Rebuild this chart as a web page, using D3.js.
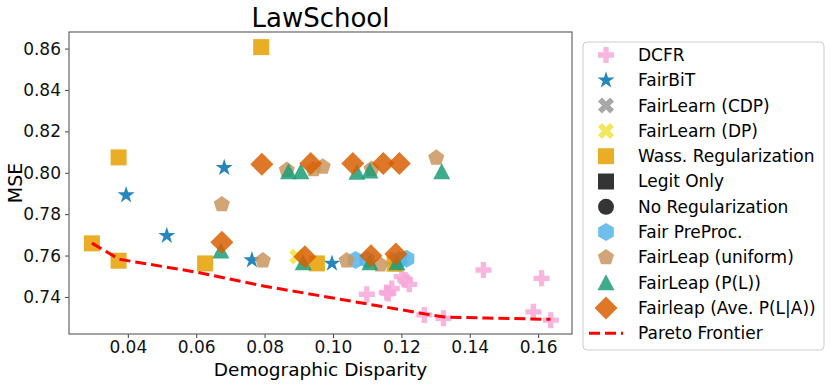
<!DOCTYPE html>
<html>
<head>
<meta charset="utf-8">
<script src="https://cdn.jsdelivr.net/npm/d3@7"></script>
<style>
  body { margin: 0; background: #fff; }
  svg { font-family: "DejaVu Sans", sans-serif; }
</style>
</head>
<body>
<div id="chart"></div>
<script>
// data: [demographic disparity, MSE]
var dcfr = [[0.1099, 0.7413], [0.1157, 0.7422], [0.1172, 0.7441], [0.1162, 0.7417],
  [0.1201, 0.7498], [0.1211, 0.7482], [0.1223, 0.7461], [0.1440, 0.7530],
  [0.1610, 0.7490], [0.1267, 0.7313], [0.1323, 0.7297], [0.1586, 0.7328], [0.1637, 0.7288]];
var fairBiT = [[0.0682, 0.8024], [0.0395, 0.7892], [0.0514, 0.7696], [0.0763, 0.7578], [0.0997, 0.7562]];
var fairLearnCDP = [[0.1184, 0.7580]];
var fairLearnDP = [[0.0895, 0.7595]];
var wass = [[0.0790, 0.8607], [0.0373, 0.8074], [0.0295, 0.7659], [0.0373, 0.7575],
  [0.0626, 0.7562], [0.0953, 0.7562], [0.1180, 0.7560]];
var legitOnly = [];
var noReg = [];
var fairPreProc = [[0.1066, 0.7578], [0.1100, 0.7580], [0.1195, 0.7580], [0.1215, 0.7585]];
var leapUniform = [[0.1302, 0.8072], [0.0675, 0.7847], [0.0865, 0.8013], [0.0943, 0.8016],
  [0.0970, 0.8029], [0.1113, 0.8018], [0.0795, 0.7576], [0.1040, 0.7576], [0.1138, 0.7556]];
var leapPL = [[0.0870, 0.8005], [0.0906, 0.8005], [0.1070, 0.8003], [0.1108, 0.8008],
  [0.1318, 0.8005], [0.0672, 0.7622], [0.0913, 0.7565], [0.1108, 0.7565], [0.1187, 0.7565]];
var leapAvePLA = [[0.0792, 0.8041], [0.0935, 0.8045], [0.1058, 0.8045], [0.1147, 0.8045],
  [0.1194, 0.8045], [0.0675, 0.7664], [0.0918, 0.7594], [0.1111, 0.7599], [0.1184, 0.7607]];
var pareto = [[0.0295, 0.7660], [0.0375, 0.7582], [0.0600, 0.7520], [0.0800, 0.7452],
  [0.1000, 0.7395], [0.1150, 0.7352], [0.1270, 0.7318], [0.1325, 0.7303],
  [0.1450, 0.7298], [0.1636, 0.7292]];

var xTicks = [0.04, 0.06, 0.08, 0.10, 0.12, 0.14, 0.16];
var yTicks = [0.74, 0.76, 0.78, 0.80, 0.82, 0.84, 0.86];

// marker shapes (path strings centred on 0,0)
function poly(n, r, rot) {
  var pts = [];
  for (var i = 0; i < n; i++) {
    var a = rot + i * 2 * Math.PI / n;
    pts.push([r * Math.sin(a), -r * Math.cos(a)]);
  }
  return "M" + pts.map(p => p.join(",")).join("L") + "Z";
}
function star(r) {
  var pts = [];
  for (var i = 0; i < 10; i++) {
    var rr = i % 2 ? r * 0.382 : r;
    var a = i * Math.PI / 5;
    pts.push([rr * Math.sin(a), -rr * Math.cos(a)]);
  }
  return "M" + pts.map(p => p.join(",")).join("L") + "Z";
}
function plus(w) {
  var a = w / 2, b = w / 6;
  return `M${-b},${-a}H${b}V${-b}H${a}V${b}H${b}V${a}H${-b}V${b}H${-a}V${-b}H${-b}Z`;
}
var shapes = {
  plus: () => plus(16),
  star: () => star(9),
  x: () => plus(17),
  square: () => "M-8,-8H8V8H-8Z",
  circle: () => "M8,0A8,8 0 1,1 -8,0A8,8 0 1,1 8,0Z",
  hexagon: () => poly(6, 9, 0),
  pentagon: () => poly(5, 8.5, 0),
  triangle: () => "M0,-8.5L8.5,7.5L-8.5,7.5Z",
  diamond: () => "M0,-11.5L11.5,0L0,11.5L-11.5,0Z"
};

var series = [
  {name: "DCFR", data: dcfr, shape: "plus", color: "#f7a8d8"},
  {name: "FairBiT", data: fairBiT, shape: "star", color: "#0072b2"},
  {name: "FairLearn (CDP)", data: fairLearnCDP, shape: "x", color: "#999999"},
  {name: "FairLearn (DP)", data: fairLearnDP, shape: "x", color: "#f0e442"},
  {name: "Wass. Regularization", data: wass, shape: "square", color: "#e69f00"},
  {name: "Legit Only", data: legitOnly, shape: "square", color: "#111111"},
  {name: "No Regularization", data: noReg, shape: "circle", color: "#111111"},
  {name: "Fair PreProc.", data: fairPreProc, shape: "hexagon", color: "#56b4e9"},
  {name: "FairLeap (uniform)", data: leapUniform, shape: "pentagon", color: "#ca955f"},
  {name: "FairLeap (P(L))", data: leapPL, shape: "triangle", color: "#1b9e77"},
  {name: "Fairleap (Ave. P(L|A))", data: leapAvePLA, shape: "diamond", color: "#d95f02"}
];

var svgWidth = 831, svgHeight = 384;
var plot = {left: 69, right: 572, top: 32, bottom: 334};

var svg = d3.select("#chart").append("svg")
  .attr("width", svgWidth)
  .attr("height", svgHeight);

var xScale = d3.scaleLinear().domain([0.0228, 0.1699]).range([plot.left, plot.right]);
var yScale = d3.scaleLinear().domain([0.7221, 0.868]).range([plot.bottom, plot.top]);

// axes
var xAxis = svg.append("g")
  .attr("transform", `translate(0,${plot.bottom})`)
  .call(d3.axisBottom(xScale).tickValues(xTicks).tickFormat(d3.format(".2f")).tickSize(4).tickPadding(3));
var yAxis = svg.append("g")
  .attr("transform", `translate(${plot.left},0)`)
  .call(d3.axisLeft(yScale).tickValues(yTicks).tickFormat(d3.format(".2f")).tickSize(4).tickPadding(4));
[xAxis, yAxis].forEach(function(g) {
  g.select(".domain").remove();
  g.selectAll("line").attr("stroke", "#444");
  g.selectAll("text").attr("font-size", 17).attr("fill", "#111").attr("font-family", "DejaVu Sans");
});

// frame
svg.append("rect")
  .attr("x", plot.left).attr("y", plot.top)
  .attr("width", plot.right - plot.left).attr("height", plot.bottom - plot.top)
  .attr("fill", "none").attr("stroke", "#666").attr("stroke-width", 1.2);

// points
series.forEach(function(s) {
  svg.append("g").selectAll("path")
    .data(s.data)
    .join("path")
    .attr("d", shapes[s.shape]())
    .attr("transform", d => `translate(${xScale(d[0])},${yScale(d[1])})` + (s.shape == "x" ? " rotate(45)" : ""))
    .attr("fill", s.color)
    .attr("fill-opacity", 0.85);
});

// pareto frontier
var line = d3.line().x(d => xScale(d[0])).y(d => yScale(d[1]));
svg.append("path")
  .datum(pareto)
  .attr("d", line)
  .attr("fill", "none")
  .attr("stroke", "#ff0000")
  .attr("stroke-width", 3)
  .attr("stroke-dasharray", "11,5");

// titles
svg.append("text")
  .attr("x", (plot.left + plot.right) / 2).attr("y", 27)
  .attr("text-anchor", "middle").attr("font-size", 26)
  .text("LawSchool");
svg.append("text")
  .attr("x", (plot.left + plot.right) / 2).attr("y", 376)
  .attr("text-anchor", "middle").attr("font-size", 18.5)
  .text("Demographic Disparity");
svg.append("text")
  .attr("transform", `translate(22,${(plot.top + plot.bottom) / 2}) rotate(-90)`)
  .attr("text-anchor", "middle").attr("font-size", 19)
  .text("MSE");

// legend
var legend = svg.append("g");
legend.append("rect")
  .attr("x", 583).attr("y", 42).attr("width", 241).attr("height", 308)
  .attr("rx", 4).attr("fill", "#fff").attr("stroke", "#ccc");
var rowH = 25.3, row0 = 55;
series.forEach(function(s, i) {
  var y = row0 + i * rowH;
  legend.append("path")
    .attr("d", shapes[s.shape]())
    .attr("transform", `translate(606,${y})` + (s.shape == "x" ? " rotate(45)" : ""))
    .attr("fill", s.color).attr("fill-opacity", 0.85);
  legend.append("text")
    .attr("x", 638).attr("y", y).attr("dy", "0.35em")
    .attr("font-size", 17).text(s.name);
});
var yp = row0 + series.length * rowH;
legend.append("line")
  .attr("x1", 589).attr("x2", 623).attr("y1", yp).attr("y2", yp)
  .attr("stroke", "#ff0000").attr("stroke-width", 3).attr("stroke-dasharray", "11,5");
legend.append("text")
  .attr("x", 638).attr("y", yp).attr("dy", "0.35em")
  .attr("font-size", 17).text("Pareto Frontier");
</script>
</body>
</html>
